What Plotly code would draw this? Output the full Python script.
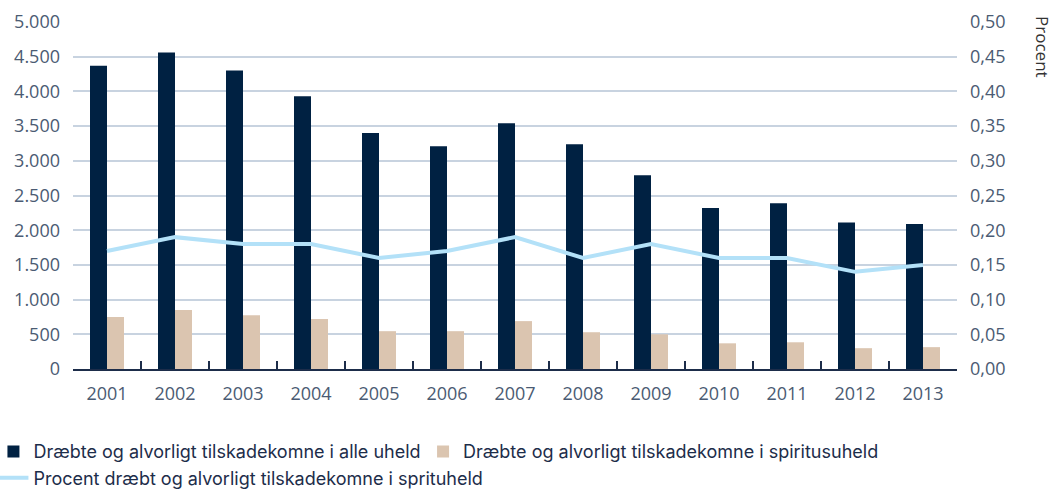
import plotly.graph_objects as go

# Trafikuheld 2001-2013
years = ["2001", "2002", "2003", "2004", "2005", "2006", "2007",
         "2008", "2009", "2010", "2011", "2012", "2013"]
alle_uheld = [4370, 4560, 4300, 3930, 3400, 3210, 3540,
              3240, 2790, 2320, 2390, 2110, 2090]
spiritus_uheld = [750, 850, 775, 720, 545, 545, 690,
                  530, 500, 370, 385, 300, 315]
procent = [0.17, 0.19, 0.18, 0.18, 0.16, 0.17, 0.19,
           0.16, 0.18, 0.16, 0.16, 0.14, 0.15]

NAVY = "#002142"
BEIGE = "#dbc5b0"
LIGHT_BLUE = "#b3e1f8"
GRID = "#c8d3e0"
TICK_TEXT = "#4b5b73"
LEGEND_FONT = dict(family="Inter", size=18, color="#1d2d4a")

fig = go.Figure()
fig.add_trace(go.Bar(
    x=years, y=alle_uheld, name="Dræbte og alvorligt tilskadekomne i alle uheld",
    marker=dict(color=NAVY, line=dict(width=0)), legend="legend",
))
fig.add_trace(go.Bar(
    x=years, y=spiritus_uheld, name="Dræbte og alvorligt tilskadekomne i spiritusuheld",
    marker=dict(color=BEIGE, line=dict(width=0)), legend="legend2",
))
fig.add_trace(go.Scatter(
    x=years, y=procent, yaxis="y2", mode="lines",
    name="Procent dræbt og alvorligt tilskadekomne i sprituheld",
    line=dict(color=LIGHT_BLUE, width=4), legend="legend",
))

fig.update_layout(
    width=1055, height=489,
    margin=dict(l=73, r=98, t=22, b=120, autoexpand=False),
    paper_bgcolor="white", plot_bgcolor="white",
    separators=",.",
    barmode="group", bargap=0.5, bargroupgap=0,
    font=dict(family="Open Sans", size=17, color=TICK_TEXT),
    xaxis=dict(
        type="category", showgrid=False,
        showline=True, linecolor="#1d2d4a", linewidth=2,
        ticks="inside", tickson="boundaries", ticklen=8, tickwidth=2,
        tickcolor="#1d2d4a", ticklabelstandoff=7,
        tickfont=dict(size=18, color=TICK_TEXT),
    ),
    yaxis=dict(
        range=[0, 5000], dtick=500, tickformat=",d",
        showgrid=True, gridcolor=GRID, gridwidth=2,
        zeroline=False, showline=False, ticks="",
        ticklabelstandoff=12,
        tickfont=dict(size=18, color=TICK_TEXT),
    ),
    yaxis2=dict(
        overlaying="y", side="right",
        range=[0, 0.5], dtick=0.05, tickformat=".2f",
        showgrid=False, zeroline=False, showline=False, ticks="",
        ticklabelstandoff=12,
        tickfont=dict(size=18, color=TICK_TEXT),
    ),
    legend=dict(
        orientation="v", x=-0.09, xanchor="left", y=-0.185, yanchor="top",
        font=LEGEND_FONT, traceorder="normal", itemwidth=30, tracegroupgap=0,
    ),
    legend2=dict(
        orientation="v", x=0.396, xanchor="left", y=-0.185, yanchor="top",
        font=LEGEND_FONT, itemwidth=30,
    ),
    showlegend=True,
)

fig.add_annotation(
    text="Procent", textangle=90, xref="paper", yref="paper",
    x=1.0, xshift=86, y=1.02, yanchor="top", xanchor="center",
    borderpad=0,
    showarrow=False, font=dict(family="Open Sans", size=17, color="#333333"),
)

fig.write_html("out.html")
